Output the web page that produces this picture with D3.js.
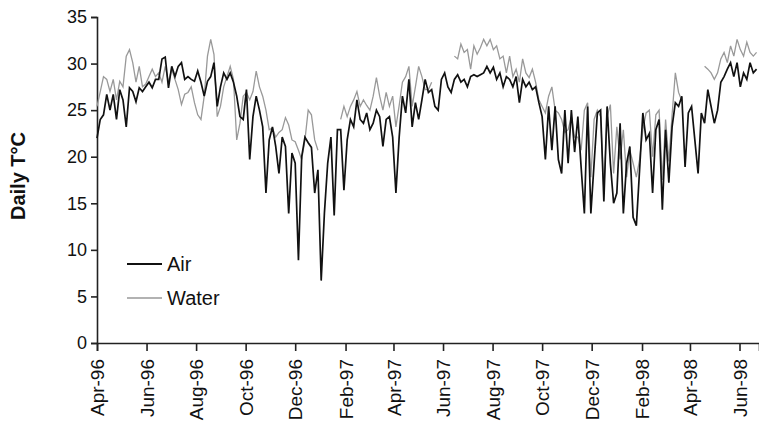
<!DOCTYPE html>
<html>
<head>
<meta charset="utf-8">
<script src="https://cdn.jsdelivr.net/npm/d3@7"></script>
<style>
 body { margin: 0; background: #fff; }
 svg { display: block; font-family: "Liberation Sans", Arial, sans-serif; }
</style>
</head>
<body>
<svg id="chart"></svg>
<script>
// daily temperature, sampled every 4 days from 1 Apr 1996
const startDate = "1996-04-01";
const stepDays = 4;

const air = [
 22.0, 24.0, 24.5, 26.7, 25.0, 26.7, 24.0, 27.2, 26.1, 23.2,
 27.4, 27.0, 25.9, 27.4, 27.0, 27.5, 28.0, 27.4, 28.3, 28.3,
 30.5, 30.7, 27.4, 29.7, 28.6, 29.7, 30.1, 28.3, 28.6, 28.3,
 28.1, 29.2, 28.0, 26.5, 28.1, 28.6, 30.1, 25.4, 27.5, 29.0,
 28.3, 29.0, 28.0, 26.5, 24.3, 24.0, 27.2, 19.7, 24.3, 26.5,
 25.0, 23.2, 16.1, 21.8, 23.2, 21.1, 18.2, 22.1, 21.1, 13.9,
 20.4, 19.3, 8.9, 20.0, 22.1, 21.5, 21.0, 16.1, 18.6, 6.7,
 14.0, 19.3, 22.1, 13.7, 22.9, 22.9, 16.4, 21.8, 24.0, 23.2,
 26.1, 24.0, 23.6, 24.7, 22.9, 23.6, 25.0, 24.3, 21.1, 24.0,
 24.3, 22.1, 16.1, 22.1, 26.5, 24.7, 28.3, 23.2, 25.8, 24.0,
 26.1, 28.3, 26.9, 27.2, 25.4, 25.0, 28.3, 29.0, 27.5, 26.9,
 28.3, 28.8, 28.0, 28.3, 27.5, 28.6, 28.8, 28.6, 28.8, 29.0,
 29.7, 29.0, 29.6, 28.3, 29.0, 27.5, 28.6, 28.3, 27.5, 28.6,
 25.8, 28.3, 27.5, 28.0, 27.2, 27.5, 25.8, 24.3, 19.7, 25.4,
 20.7, 25.4, 19.7, 18.2, 25.0, 19.3, 25.0, 20.5, 24.3, 18.9,
 13.9, 25.4, 13.9, 19.3, 24.7, 25.0, 15.2, 25.4, 19.3, 15.0,
 16.1, 23.6, 13.9, 19.3, 21.1, 13.5, 12.6, 18.6, 24.7, 21.8,
 22.5, 16.1, 22.9, 24.0, 14.3, 22.9, 17.2, 23.2, 25.8, 25.4,
 26.5, 18.9, 24.7, 25.4, 21.8, 18.2, 24.7, 23.6, 27.2, 25.4,
 23.6, 25.0, 28.0, 28.6, 29.4, 30.1, 28.6, 30.1, 27.5, 29.0,
 28.3, 30.1, 29.0, 29.4
];

const water = [
 25.4, 27.0, 28.6, 28.3, 27.0, 28.3, 26.1, 28.1, 27.5, 30.8,
 31.5, 30.1, 28.0, 29.7, 27.5, 27.8, 28.6, 29.4, 28.6, 29.0,
 28.0, 29.7, 28.0, 29.4, 28.3, 27.2, 25.6, 26.7, 26.9, 27.5,
 25.8, 24.5, 24.0, 26.5, 30.8, 32.6, 31.0, 24.3, 25.4, 27.5,
 28.6, 29.7, 28.3, 21.8, 23.6, 26.5, 26.9, 26.1, 27.0, 29.2,
 27.5, 26.5, 25.0, 22.9, 23.1, 22.1, 22.6, 22.9, 24.2, 23.4,
 21.8, 21.6, 20.7, 19.7, 21.8, 25.0, 24.5, 21.8, 20.7, null,
 null, null, null, null, null, 24.0, 25.4, 24.3, 25.4, 26.1,
 27.0, 25.4, 26.1, 25.5, 25.0, 26.5, 28.5, 26.5, 25.0, 26.9,
 25.4, 26.5, 23.2, 25.5, 28.0, 28.6, 29.7, 25.4, 27.5, 29.7,
 28.6, 27.2, 27.2, 28.0, null, null, null, null, null, null,
 30.8, 30.5, 32.1, 31.2, 31.5, 29.4, 31.9, 31.0, 31.7, 32.6,
 31.9, 32.6, 31.5, 31.9, 30.5, 30.8, 29.0, 30.8, 28.6, 29.4,
 28.0, 30.5, 29.0, 28.5, 29.4, 28.0, 26.1, 25.4, 24.7, 26.5,
 27.5, 25.0, 24.7, 24.0, 22.6, 22.9, 24.3, 22.1, 22.1, 20.7,
 25.0, 25.8, 17.8, 24.0, 25.0, 24.3, 16.4, 24.3, 25.6, 18.2,
 23.2, 19.7, 22.9, 17.8, 20.7, 19.3, 17.8, 19.7, 22.9, 24.7,
 25.0, 20.0, 24.5, 25.0, 17.5, 24.0, 19.5, 24.5, 29.0, 26.9,
 26.0, null, null, null, null, null, null, 29.7, 29.4, 29.0,
 28.3, 29.0, 30.5, 31.2, 30.1, 31.9, 30.8, 32.6, 31.5, 30.8,
 32.3, 31.2, 30.8, 31.2
];

const tickLabels = ["Apr-96", "Jun-96", "Aug-96", "Oct-96", "Dec-96", "Feb-97", "Apr-97",
 "Jun-97", "Aug-97", "Oct-97", "Dec-97", "Feb-98", "Apr-98", "Jun-98"];
const yTicks = [0, 5, 10, 15, 20, 25, 30, 35];
const seriesNames = ["Air", "Water"];

const width = 759, height = 424;
const svg = d3.select("#chart").attr("width", width).attr("height", height);

const start = d3.utcParse("%Y-%m-%d")(startDate);
const parseTick = d3.utcParse("%b-%y");
const tickDates = tickLabels.map(parseTick);

const x = d3.scaleUtc()
 .domain([start, d3.utcDay.offset(start, 815)])
 .range([97, 759]);
const y = d3.scaleLinear().domain([0, 35]).range([343, 17]);

const dateAt = i => d3.utcDay.offset(start, i * stepDays);

// y axis
const gy = svg.append("g").attr("transform", "translate(97,0)")
 .call(d3.axisLeft(y).tickValues(yTicks).tickSize(6).tickPadding(4));
gy.selectAll("text").style("font-size", "18px").attr("fill", "#111");

// x axis
const gx = svg.append("g").attr("transform", "translate(0,343)")
 .call(d3.axisBottom(x).tickValues(tickDates).tickFormat(d3.utcFormat("%b-%y")).tickSize(8));
gx.selectAll("text")
 .style("font-size", "19px").attr("fill", "#111")
 .attr("transform", "rotate(-90)")
 .attr("text-anchor", "end")
 .attr("x", -16).attr("y", 0).attr("dy", "0.35em");

[gx, gy].forEach(g => {
 g.select(".domain").attr("stroke", "#222").attr("stroke-width", 1.6);
 g.selectAll(".tick line").attr("stroke", "#222").attr("stroke-width", 1.6);
});

svg.append("text")
 .attr("transform", "translate(25,176) rotate(-90)")
 .attr("text-anchor", "middle")
 .style("font-size", "20px").style("font-weight", "bold")
 .attr("fill", "#111")
 .text("Daily T\u00b0C");

const line = d3.line()
 .defined(d => d != null)
 .x((d, i) => x(dateAt(i)))
 .y(d => y(d));

svg.append("path").datum(water)
 .attr("d", line).attr("fill", "none")
 .attr("stroke", "#999").attr("stroke-width", 1.3);

svg.append("path").datum(air)
 .attr("d", line).attr("fill", "none")
 .attr("stroke", "#111").attr("stroke-width", 1.7);

// legend
const legend = svg.append("g");
const styles = [{ c: "#111", w: 2 }, { c: "#999", w: 1.3 }];
seriesNames.forEach((name, k) => {
 const ly = 264 + k * 34;
 legend.append("line").attr("x1", 127).attr("x2", 162).attr("y1", ly).attr("y2", ly)
 .attr("stroke", styles[k].c).attr("stroke-width", styles[k].w);
 legend.append("text").attr("x", 167).attr("y", ly).attr("dy", "0.35em")
 .style("font-size", "20px").attr("fill", "#111").text(name);
});
</script>
</body>
</html>
